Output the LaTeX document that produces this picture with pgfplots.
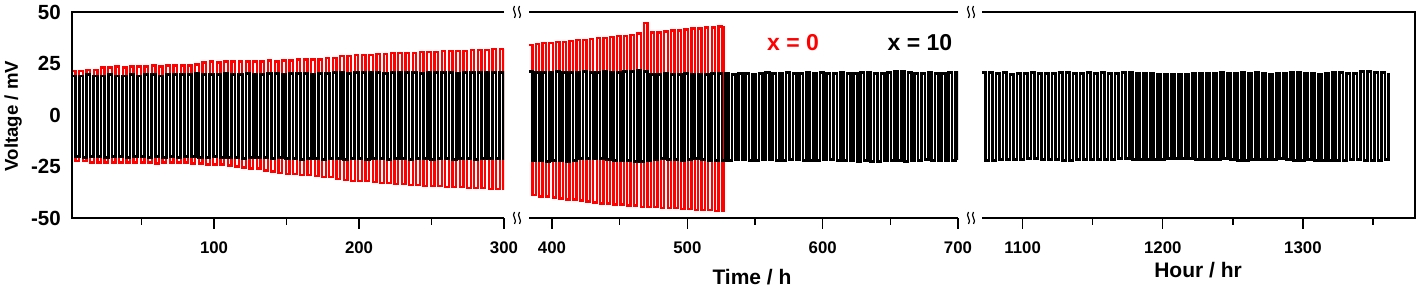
\documentclass[border=0pt]{standalone}
\usepackage{pgfplots}
\pgfplotsset{compat=1.18}
\usepackage{fontspec}
\setmainfont{Liberation Sans}
\newcommand\brk[2]{%
  \begin{scope}[shift={(#1pt,#2pt)}]
    \draw[line width=1.2pt] (-2.5pt,6pt) .. controls (-6pt,2pt) and (1pt,-2pt) .. (-2.5pt,-6pt);
    \draw[line width=1.2pt] (2.5pt,6pt) .. controls (-1pt,2pt) and (6pt,-2pt) .. (2.5pt,-6pt);
  \end{scope}}
\begin{document}
\begin{tikzpicture}
\useasboundingbox (0pt,0pt) rectangle (1418pt,291pt);
\pgfplotsset{
  common/.style={
    scale only axis, height=206pt, ymin=-50, ymax=50,
    anchor=south west,
    axis line style={draw=none},
    tick align=outside, xtick pos=left, ytick pos=left,
    major tick length=11pt, minor tick length=7pt,
    tick style={black, line width=1.4pt},
    xticklabel style={font=\fontsize{16.8}{18}\selectfont\bfseries, inner sep=0pt, yshift=-13pt},
    yticklabel style={font=\fontsize{20.5}{22}\selectfont\bfseries, inner sep=0pt},
    ytick=\empty,
  },
  blk/.style={const plot, mark=none, color=black, line width=2.7pt},
  rd/.style={const plot, mark=none, color=red, line width=2.3pt},
}
% ---------------- panel 1 ----------------
\begin{axis}[common, name=ax1, at={(72pt,73pt)}, width=432pt, xmin=2, xmax=300,
  xtick={100,200,300}, xticklabels={100,200,300}, minor xtick={50,150,250},
  ytick={-50,-25,0,25,50}, yticklabels={-50,-25,0,25,50}, ytick style={draw=none}]
\addplot[rd] coordinates {
(2,21.5)(4.5,-22.5)(7,21.5)(9.5,-22.5)(12,22)(14.5,-23)(17,22)(19.5,-23)(22,23)(24.5,-23)
(27,23)(29.5,-23)(32,23.5)(34.5,-23)(37,23)(39.5,-23)(42,23.5)(44.5,-23)(47,23.5)(49.5,-23)
(52,23.5)(54.5,-23)(57,24)(59.5,-23.5)(62,23.5)(64.5,-23)(67,24)(69.5,-23)(72,24)(74.5,-23)
(77,24)(79.5,-23)(82,24)(84.5,-23.5)(87,24.5)(89.5,-23.5)(92,25.5)(94.5,-24)(97,26)(99.5,-24)
(102,25.5)(104.5,-24)(107,26)(109.5,-24.5)(112,26)(114.5,-25)(117,26)(119.5,-25.5)(122,26)(124.5,-26)
(127,26)(129.5,-26)(132,26)(134.5,-27)(137,26.5)(139.5,-27.5)(142,26)(144.5,-28)(147,26.5)(149.5,-28.5)
(152,26.5)(154.5,-28.5)(157,27)(159.5,-29)(162,27)(164.5,-29)(167,27)(169.5,-29.5)(172,27)(174.5,-30)
(177,27.5)(179.5,-30)(182,27.5)(184.5,-31)(187,28.5)(189.5,-31.5)(192,28.5)(194.5,-32)(197,29)(199.5,-32)
(202,29)(204.5,-32)(207,29)(209.5,-32.5)(212,29.5)(214.5,-33)(217,29.5)(219.5,-33)(222,30)(224.5,-33.5)
(227,30)(229.5,-33.5)(232,30)(234.5,-34)(237,30)(239.5,-34)(242,30.5)(244.5,-34.5)(247,30.5)(249.5,-34.5)
(252,30.5)(254.5,-34.5)(257,31)(259.5,-35)(262,31)(264.5,-35)(267,31)(269.5,-35)(272,31)(274.5,-35.5)
(277,31.5)(279.5,-35.5)(282,31.5)(284.5,-35.5)(287,31.5)(289.5,-36)(292,32)(294.5,-36)(297,32)(299.5,-36)
(300,32)};
\addplot[blk] coordinates {
(2,19)(4.5,-20)(7,19)(9.5,-20.5)(12,19.5)(14.5,-20)(17,19)(19.5,-20)(22,19)(24.5,-20.5)
(27,19.5)(29.5,-20)(32,19)(34.5,-20)(37,19)(39.5,-20.5)(42,19.5)(44.5,-20)(47,19)(49.5,-20)
(52,19.5)(54.5,-20.5)(57,19.5)(59.5,-20)(62,19)(64.5,-20.5)(67,19.5)(69.5,-20)(72,19.5)(74.5,-20.5)
(77,19.5)(79.5,-20)(82,19.5)(84.5,-20)(87,20)(89.5,-20.5)(92,19.5)(94.5,-20.5)(97,19.5)(99.5,-20)
(102,19.5)(104.5,-20.5)(107,20)(109.5,-20.5)(112,19.5)(114.5,-20.5)(117,19.5)(119.5,-21)(122,20)(124.5,-20.5)
(127,19.5)(129.5,-20.5)(132,19.5)(134.5,-20.5)(137,20)(139.5,-21)(142,20)(144.5,-20.5)(147,19.5)(149.5,-21)
(152,20)(154.5,-21)(157,20)(159.5,-21.5)(162,20)(164.5,-21)(167,19.5)(169.5,-21)(172,20)(174.5,-21.5)
(177,20)(179.5,-21)(182,20.5)(184.5,-21)(187,20.5)(189.5,-21.5)(192,20)(194.5,-21)(197,20.5)(199.5,-21)
(202,20.5)(204.5,-21.5)(207,20.5)(209.5,-21)(212,20.5)(214.5,-21)(217,20)(219.5,-21.5)(222,20.5)(224.5,-21)
(227,20.5)(229.5,-21)(232,20.5)(234.5,-21.5)(237,20.5)(239.5,-21)(242,20)(244.5,-21)(247,20.5)(249.5,-21.5)
(252,20.5)(254.5,-21)(257,20.5)(259.5,-21)(262,20.5)(264.5,-21.5)(267,20)(269.5,-21)(272,20.5)(274.5,-21)
(277,20.5)(279.5,-21.5)(282,20.5)(284.5,-21)(287,20.5)(289.5,-21)(292,20.5)(294.5,-21)(297,20.5)(299.5,-21)
(300,20.5)};
\end{axis}
% ---------------- panel 2 ----------------
\begin{axis}[common, name=ax2, at={(529pt,73pt)}, width=429pt, xmin=383, xmax=700,
  xtick={400,500,600,700}, xticklabels={400,500,600,700}, minor xtick={450,550,650}]
\addplot[rd] coordinates {
(383,34)(385.5,-39)(388,34.5)(390.5,-39.5)(393,35)(395.5,-39.5)(398,35)(400.5,-40)(403,35.5)(405.5,-40.5)
(408,35.5)(410.5,-41)(413,36)(415.5,-41)(418,36.5)(420.5,-41.5)(423,36.5)(425.5,-42)(428,37)(430.5,-42.5)
(433,37.5)(435.5,-43)(438,37.5)(440.5,-43)(443,38)(445.5,-43.5)(448,38.5)(450.5,-43.5)(453,38.5)(455.5,-44)
(458,39)(460.5,-44)(463,39.5)(465.5,-44.5)(468,44.5)(470.5,-44.5)(473,40)(475.5,-44.5)(478,40)(480.5,-45)
(483,40.5)(485.5,-45)(488,41)(490.5,-45)(493,41)(495.5,-45.5)(498,41.5)(500.5,-45.5)(503,42)(505.5,-46)
(508,42)(510.5,-46)(513,42.5)(515.5,-46)(518,42.5)(520.5,-46.5)(523,43)(525.5,-46.5)(527,43)};
\addplot[blk] coordinates {
(383,21)(385.5,-22)(388,20.5)(390.5,-22)(393,20.5)(395.5,-22.5)(398,20.5)(400.5,-22)(403,21)(405.5,-22)
(408,20.5)(410.5,-22.5)(413,20.5)(415.5,-22)(418,20.5)(420.5,-21)(423,21)(425.5,-21)(428,20.5)(430.5,-21)
(433,20.5)(435.5,-21)(438,21)(440.5,-21.5)(443,20.5)(445.5,-22)(448,20.5)(450.5,-22)(453,21)(455.5,-22)
(458,21)(460.5,-22.5)(463,21.5)(465.5,-22.5)(468,21)(470.5,-22)(473,19.5)(475.5,-21.5)(478,19.5)(480.5,-21)
(483,20)(485.5,-21.5)(488,19.5)(490.5,-21.5)(493,19.5)(495.5,-22)(498,20)(500.5,-21.5)(503,19.5)(505.5,-21)
(508,19.5)(510.5,-21.5)(513,19.5)(515.5,-22)(518,20)(520.5,-22)(523,20)(525.5,-22)(528,20)(530.5,-22)
(533,19.5)(535.5,-21.5)(538,20)(540.5,-21.5)(543,20)(545.5,-22)(548,19.5)(550.5,-22)(553,20)(555.5,-21.5)
(558,20.5)(560.5,-21.5)(563,20)(565.5,-22)(568,20)(570.5,-22)(573,20.5)(575.5,-21.5)(578,20)(580.5,-21.5)
(583,20)(585.5,-22)(588,20.5)(590.5,-22)(593,20)(595.5,-22)(598,20.5)(600.5,-21.5)(603,20)(605.5,-21.5)
(608,20)(610.5,-22)(613,20.5)(615.5,-22)(618,20)(620.5,-22)(623,20)(625.5,-22.5)(628,20.5)(630.5,-22)
(633,20.5)(635.5,-22.5)(638,20)(640.5,-22.5)(643,20)(645.5,-22)(648,20.5)(650.5,-22)(653,21)(655.5,-22)
(658,21)(660.5,-22.5)(663,20.5)(665.5,-22)(668,20)(670.5,-22)(673,20)(675.5,-21.5)(678,20.5)(680.5,-22)
(683,20)(685.5,-22)(688,20)(690.5,-22)(693,20.5)(695.5,-22)(698,20.5)(700.5,-22)};
\end{axis}
% ---------------- panel 3 ----------------
\begin{axis}[common, name=ax3, at={(982pt,73pt)}, width=433pt, xmin=1071, xmax=1380,
  xtick={1100,1200,1300}, xticklabels={1100,1200,1300}, minor xtick={1150,1250,1350}]
\addplot[blk] coordinates {
(1071,20.5)(1073.5,-22)(1076,20.5)(1078.5,-22)(1081,20)(1083.5,-21.5)(1086,20.5)(1088.5,-21.5)(1091,19.5)(1093.5,-21.5)
(1096,20)(1098.5,-21.5)(1101,20)(1103.5,-21)(1106,20.5)(1108.5,-21)(1111,20)(1113.5,-21.5)(1116,20)(1118.5,-21.5)
(1121,20)(1123.5,-21.5)(1126,20.5)(1128.5,-22)(1131,20.5)(1133.5,-22)(1136,20)(1138.5,-21.5)(1141,20)(1143.5,-21.5)
(1146,20.5)(1148.5,-21.5)(1151,20)(1153.5,-21.5)(1156,20.5)(1158.5,-21.5)(1161,20)(1163.5,-21.5)(1166,20)(1168.5,-21)
(1171,20.5)(1173.5,-21)(1176,20.5)(1178.5,-21.5)(1181,20)(1183.5,-21.5)(1186,20)(1188.5,-21.5)(1191,20)(1193.5,-21.5)
(1196,19.5)(1198.5,-21.5)(1201,19.5)(1203.5,-21)(1206,19.5)(1208.5,-21)(1211,19.5)(1213.5,-21)(1216,19.5)(1218.5,-21)
(1221,20)(1223.5,-21.5)(1226,20)(1228.5,-21.5)(1231,20)(1233.5,-21.5)(1236,20)(1238.5,-21.5)(1241,20.5)(1243.5,-21)
(1246,20)(1248.5,-21.5)(1251,20)(1253.5,-22)(1256,20.5)(1258.5,-22)(1261,20)(1263.5,-21.5)(1266,20.5)(1268.5,-21.5)
(1271,20)(1273.5,-21.5)(1276,19.5)(1278.5,-21.5)(1281,20)(1283.5,-21)(1286,20)(1288.5,-21.5)(1291,20.5)(1293.5,-22)
(1296,20.5)(1298.5,-22)(1301,20)(1303.5,-21.5)(1306,20)(1308.5,-22)(1311,19.5)(1313.5,-22)(1316,20)(1318.5,-22)
(1321,20.5)(1323.5,-22)(1326,20.5)(1328.5,-22)(1331,20)(1333.5,-21.5)(1336,20)(1338.5,-21.5)(1341,21)(1343.5,-22)
(1346,21)(1348.5,-22)(1351,20.5)(1353.5,-22)(1356,20.5)(1358.5,-21.5)(1361,20.5)};
\end{axis}
% axis lines
\draw[line width=1.5pt] (ax1.north east) -- (ax1.north west) -- (ax1.south west) -- (ax1.south east);
\draw[line width=1.5pt] (ax2.north west) -- (ax2.north east);
\draw[line width=1.5pt] (ax2.south west) -- (ax2.south east);
\draw[line width=1.5pt] (ax3.north west) -- (ax3.north east) -- (ax3.south east) -- (ax3.south west);
% break marks
\brk{517}{279}\brk{517}{73}\brk{971}{279}\brk{971}{73}
% labels
\node[rotate=90, font=\fontsize{18.6}{20}\selectfont\bfseries] at (13pt,175pt) {Voltage / mV};
\node[font=\fontsize{21}{23}\selectfont\bfseries] at (752pt,14pt) {Time / h};
\node[font=\fontsize{21}{23}\selectfont\bfseries] at (1198pt,21pt) {Hour / hr};
\node[font=\fontsize{23}{25}\selectfont\bfseries, text=red] at (793pt,248pt) {x = 0};
\node[font=\fontsize{23}{25}\selectfont\bfseries] at (920pt,248pt) {x = 10};
\end{tikzpicture}
\end{document}
